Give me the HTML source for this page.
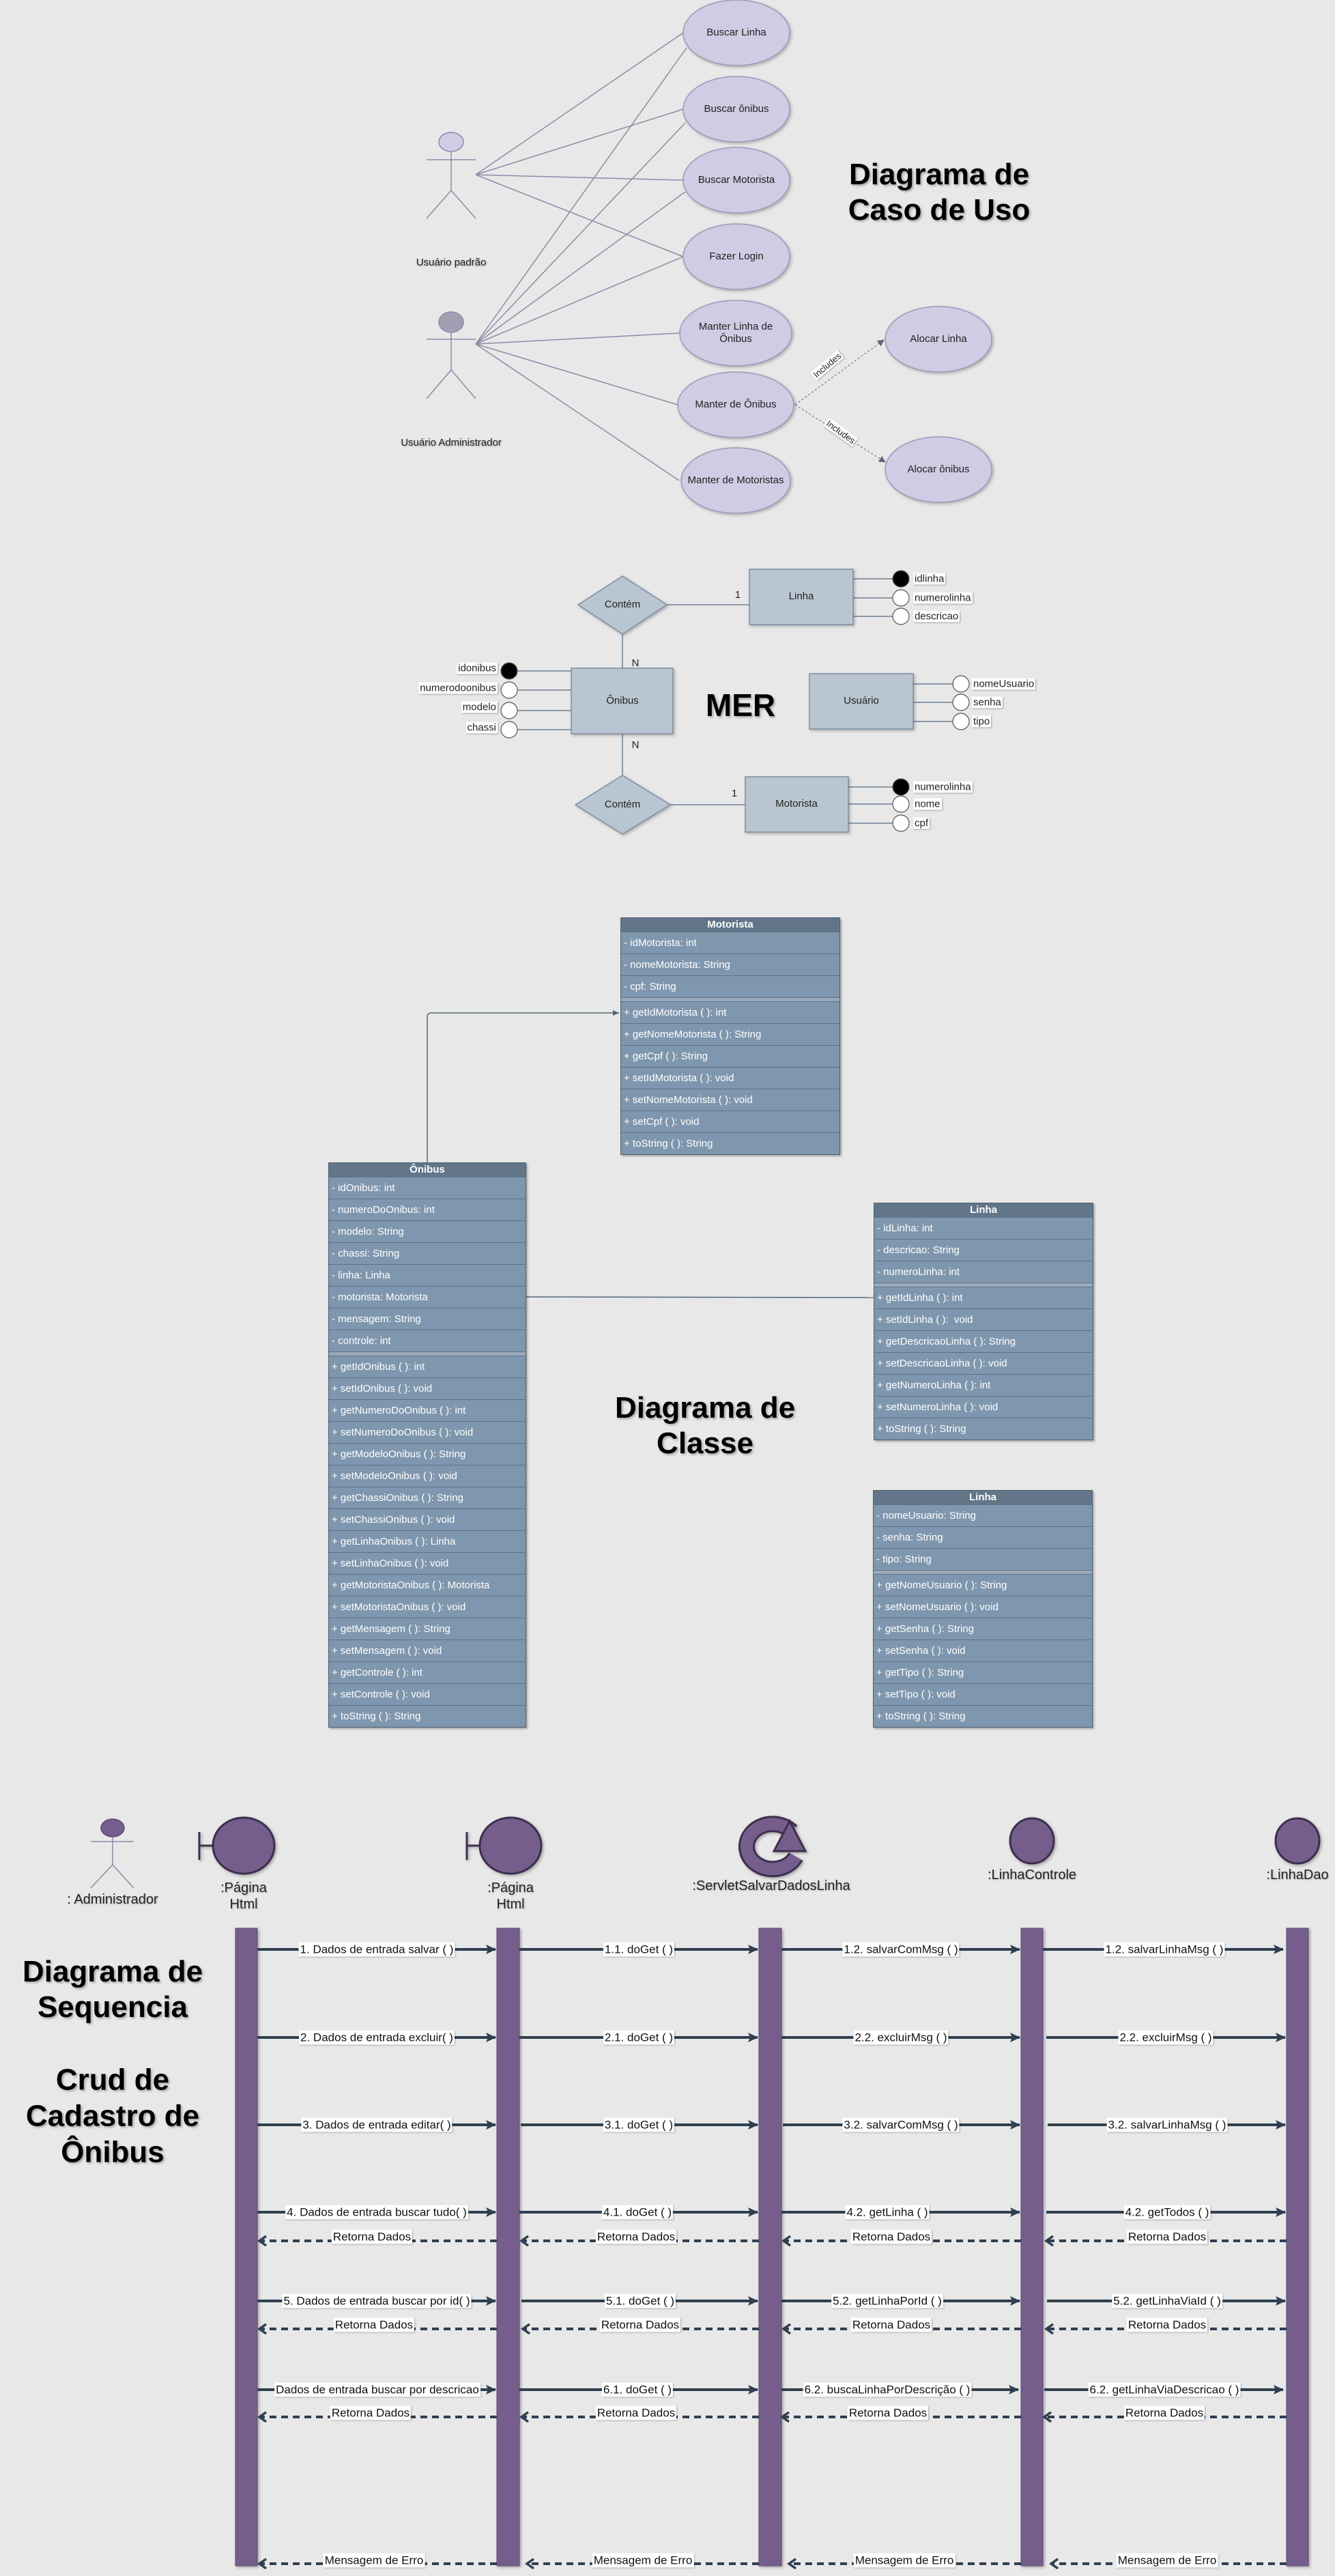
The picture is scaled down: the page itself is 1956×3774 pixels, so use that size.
<!DOCTYPE html>
<html><head><meta charset="utf-8">
<style>
html,body{margin:0;padding:0;}
body{width:1956px;height:3774px;background:#e8e8e8;position:relative;overflow:hidden;font-family:"Liberation Sans",sans-serif;}
svg{position:absolute;left:0;top:0;}
.t{position:absolute;white-space:nowrap;}
.c{transform:translate(-50%,-50%);}
.r{transform:translate(-100%,-50%);}
.l{transform:translate(0,-50%);}
.title{font-weight:bold;font-size:44px;color:#000;text-align:center;line-height:52px;text-shadow:2px 2px 3px rgba(0,0,0,.3);}
.uc{font-size:15px;color:#222;text-align:center;line-height:18px;}
.lab{font-size:15px;color:#222;background:#fff;padding:0 2px;box-shadow:1px 1px 2px rgba(0,0,0,.3);}
.msg{font-size:17px;color:#111;background:#fff;padding:0 2px;line-height:21px;box-shadow:1px 1px 2px rgba(0,0,0,.25);}
.hd{font-size:20px;color:#222;text-align:center;line-height:24px;text-shadow:1px 1px 2px rgba(0,0,0,.25);}
.cls{position:absolute;border:1px solid #4e5f70;background:#7f97ae;box-shadow:2px 2px 3px rgba(0,0,0,.3);}
.cls div{height:31px;border-bottom:1px solid #5c7084;color:#fff;font-size:15px;line-height:31px;padding-left:4px;white-space:nowrap;}
.cls .h{height:20px;line-height:20px;background:#627589;text-align:center;font-weight:bold;padding:0;}
.cls .s{height:5px;background:#9aaabb;border-bottom:1px solid #5c7084;padding:0;}
</style></head><body>
<svg width="1956" height="3774" viewBox="0 0 1956 3774">
<defs>
<marker id="ah" markerWidth="10" markerHeight="10" refX="9" refY="5" orient="auto" markerUnits="userSpaceOnUse"><path d="M0,0 L10,5 L0,10 z" fill="#66627f"/></marker>
<marker id="sa" markerWidth="16" markerHeight="16" refX="14" refY="8" orient="auto" markerUnits="userSpaceOnUse"><path d="M0,1 L15,8 L0,15 L3,8 z" fill="#2f3f50"/></marker>
<marker id="ra" markerWidth="16" markerHeight="16" refX="13" refY="8" orient="auto" markerUnits="userSpaceOnUse"><path d="M3,1 L13,8 L3,15" fill="none" stroke="#2f3f50" stroke-width="3.5"/></marker>
<marker id="ca" markerWidth="10" markerHeight="10" refX="9" refY="5" orient="auto" markerUnits="userSpaceOnUse"><path d="M0,1 L9,5 L0,9 z" fill="#556677"/></marker>
</defs>
<!-- USE CASE -->
<g stroke="#8e8aa8" stroke-width="1.5" fill="none">
<line x1="697" y1="256" x2="1001" y2="48"/><line x1="697" y1="256" x2="1001" y2="160"/><line x1="697" y1="256" x2="1001" y2="264"/><line x1="697" y1="256" x2="1001" y2="376"/>
<line x1="697" y1="504" x2="1006" y2="70"/><line x1="697" y1="504" x2="1004" y2="180"/><line x1="697" y1="504" x2="1004" y2="281"/><line x1="697" y1="504" x2="1001" y2="376"/>
<line x1="697" y1="504" x2="996" y2="488"/><line x1="697" y1="504" x2="993" y2="593"/><line x1="697" y1="504" x2="995" y2="704"/>
</g>
<g stroke="#8e8aa8" stroke-width="1.5" stroke-dasharray="3,3" fill="none">
<line x1="1165" y1="593" x2="1295" y2="498" marker-end="url(#ah)"/>
<line x1="1165" y1="593" x2="1297" y2="677" marker-end="url(#ah)"/>
</g>
<g fill="#cfcce3" stroke="#9d99bb" stroke-width="1.5" style="filter:drop-shadow(2px 2px 2px rgba(0,0,0,.25))">
<ellipse cx="1079" cy="48" rx="78" ry="48"/><ellipse cx="1079" cy="160" rx="78" ry="48"/><ellipse cx="1079" cy="264" rx="78" ry="48"/><ellipse cx="1079" cy="376" rx="78" ry="48"/>
<ellipse cx="1078" cy="488" rx="82" ry="48"/><ellipse cx="1078" cy="593" rx="85" ry="48"/><ellipse cx="1078" cy="704" rx="80" ry="48"/>
<ellipse cx="1375" cy="497" rx="78" ry="48"/><ellipse cx="1375" cy="688" rx="78" ry="48"/>
</g>
<g stroke="#8e8aa8" stroke-width="1.5" fill="none">
<ellipse cx="661" cy="208" rx="18" ry="14" fill="#cfcce3"/><line x1="625" y1="234" x2="697" y2="234"/><line x1="661" y1="222" x2="661" y2="279"/><line x1="661" y1="279" x2="625" y2="320"/><line x1="661" y1="279" x2="697" y2="320"/>
<ellipse cx="661" cy="472" rx="18" ry="15" fill="#a39fb3"/><line x1="625" y1="497" x2="697" y2="497"/><line x1="661" y1="487" x2="661" y2="542"/><line x1="661" y1="542" x2="625" y2="584"/><line x1="661" y1="542" x2="697" y2="584"/>
</g>
<!-- MER -->
<g stroke="#6d7f92" stroke-width="1.5">
<line x1="977" y1="886" x2="1098" y2="886"/><line x1="912" y1="929" x2="912" y2="979"/><line x1="912" y1="1075" x2="912" y2="1136"/><line x1="982" y1="1179" x2="1092" y2="1179"/>
<line x1="1250" y1="848" x2="1308" y2="848"/><line x1="1250" y1="876" x2="1308" y2="876"/><line x1="1250" y1="903" x2="1308" y2="903"/>
<line x1="1243" y1="1153" x2="1308" y2="1153"/><line x1="1243" y1="1178" x2="1308" y2="1178"/><line x1="1243" y1="1206" x2="1308" y2="1206"/>
<line x1="1338" y1="1002" x2="1396" y2="1002"/><line x1="1338" y1="1029" x2="1396" y2="1029"/><line x1="1338" y1="1057" x2="1396" y2="1057"/>
<line x1="758" y1="983" x2="837" y2="983"/><line x1="758" y1="1011" x2="837" y2="1011"/><line x1="758" y1="1041" x2="837" y2="1041"/><line x1="758" y1="1069" x2="837" y2="1069"/>
</g>
<g fill="#b9c6d2" stroke="#7d8ea0" stroke-width="1.5" style="filter:drop-shadow(2px 2px 2px rgba(0,0,0,.25))">
<polygon points="912,844 977,886 912,929 847,886"/><polygon points="912,1136 982,1179 912,1222 843,1179"/>
<rect x="1098" y="834" width="152" height="81"/><rect x="837" y="979" width="149" height="96"/><rect x="1092" y="1138" width="151" height="81"/><rect x="1186" y="987" width="152" height="81"/>
</g>
<g stroke="#555" stroke-width="1.2">
<circle cx="1320" cy="848" r="12" fill="#000"/><circle cx="1320" cy="876" r="12" fill="#fff"/><circle cx="1320" cy="903" r="12" fill="#fff"/>
<circle cx="1320" cy="1153" r="12" fill="#000"/><circle cx="1320" cy="1178" r="12" fill="#fff"/><circle cx="1320" cy="1206" r="12" fill="#fff"/>
<circle cx="1408" cy="1002" r="12" fill="#fff"/><circle cx="1408" cy="1029" r="12" fill="#fff"/><circle cx="1408" cy="1057" r="12" fill="#fff"/>
<circle cx="746" cy="983" r="12" fill="#000"/><circle cx="746" cy="1011" r="12" fill="#fff"/><circle cx="746" cy="1041" r="12" fill="#fff"/><circle cx="746" cy="1069" r="12" fill="#fff"/>
</g>
<!-- CLASS connectors -->
<g stroke="#556677" stroke-width="1.5" fill="none">
<path d="M626,1703 L626,1490 Q626,1484 632,1484 L907,1484" marker-end="url(#ca)"/>
<line x1="770" y1="1900" x2="1280" y2="1901"/>
</g>
<!-- SEQUENCE -->
<g stroke="#8e8aa8" stroke-width="1.5" fill="none">
<ellipse cx="165" cy="2678" rx="17" ry="13" fill="#765e8c" stroke="#5c4872"/>
<line x1="133" y1="2698" x2="196" y2="2698"/><line x1="165" y1="2691" x2="165" y2="2732"/><line x1="165" y1="2732" x2="133" y2="2766"/><line x1="165" y1="2732" x2="196" y2="2766"/>
</g>
<g fill="#765e8c" stroke="#3d2f4e" stroke-width="3" style="filter:drop-shadow(2px 2px 2px rgba(0,0,0,.3))">
<line x1="292" y1="2684" x2="292" y2="2725"/><line x1="292" y1="2704" x2="312" y2="2704"/><ellipse cx="357" cy="2704" rx="45" ry="41"/>
<line x1="684" y1="2684" x2="684" y2="2725"/><line x1="684" y1="2704" x2="704" y2="2704"/><ellipse cx="748" cy="2704" rx="45" ry="41"/>
<ellipse cx="1512" cy="2697" rx="32" ry="33"/><ellipse cx="1901" cy="2697" rx="32" ry="33"/>
</g>
<g style="filter:drop-shadow(2px 2px 2px rgba(0,0,0,.3))">
<path d="M1160,2683 A38,33 0 1 0 1166,2720" fill="none" stroke="#3d2f4e" stroke-width="24"/>
<path d="M1160,2683 A38,33 0 1 0 1166,2720" fill="none" stroke="#765e8c" stroke-width="18"/>
<polygon points="1157,2668 1180,2712 1134,2712" fill="#765e8c" stroke="#3d2f4e" stroke-width="3"/>
</g>
<g fill="#765e8c" stroke="#5c4872" stroke-width="1" style="filter:drop-shadow(2px 2px 2px rgba(0,0,0,.3))">
<rect x="345" y="2825" width="32" height="934"/><rect x="728" y="2825" width="33" height="934"/><rect x="1112" y="2825" width="33" height="934"/><rect x="1496" y="2825" width="32" height="934"/><rect x="1885" y="2825" width="32" height="934"/>
</g>
<g stroke="#2f3f50" stroke-width="4" fill="none">
<line x1="377" y1="2856" x2="726" y2="2856" marker-end="url(#sa)"/><line x1="761" y1="2856" x2="1110" y2="2856" marker-end="url(#sa)"/><line x1="1145" y1="2856" x2="1494" y2="2856" marker-end="url(#sa)"/><line x1="1528" y1="2856" x2="1880" y2="2856" marker-end="url(#sa)"/>
<line x1="377" y1="2985" x2="726" y2="2985" marker-end="url(#sa)"/><line x1="761" y1="2985" x2="1110" y2="2985" marker-end="url(#sa)"/><line x1="1145" y1="2985" x2="1494" y2="2985" marker-end="url(#sa)"/><line x1="1533" y1="2985" x2="1883" y2="2985" marker-end="url(#sa)"/>
<line x1="377" y1="3113" x2="726" y2="3113" marker-end="url(#sa)"/><line x1="763" y1="3113" x2="1110" y2="3113" marker-end="url(#sa)"/><line x1="1147" y1="3113" x2="1494" y2="3113" marker-end="url(#sa)"/><line x1="1535" y1="3113" x2="1883" y2="3113" marker-end="url(#sa)"/>
<line x1="377" y1="3241" x2="726" y2="3241" marker-end="url(#sa)"/><line x1="761" y1="3241" x2="1110" y2="3241" marker-end="url(#sa)"/><line x1="1145" y1="3241" x2="1494" y2="3241" marker-end="url(#sa)"/><line x1="1533" y1="3241" x2="1883" y2="3241" marker-end="url(#sa)"/>
<line x1="377" y1="3371" x2="726" y2="3371" marker-end="url(#sa)"/><line x1="764" y1="3371" x2="1110" y2="3371" marker-end="url(#sa)"/><line x1="1145" y1="3371" x2="1494" y2="3371" marker-end="url(#sa)"/><line x1="1534" y1="3371" x2="1883" y2="3371" marker-end="url(#sa)"/>
<line x1="377" y1="3501" x2="726" y2="3501" marker-end="url(#sa)"/><line x1="761" y1="3501" x2="1110" y2="3501" marker-end="url(#sa)"/><line x1="1145" y1="3501" x2="1492" y2="3501" marker-end="url(#sa)"/><line x1="1530" y1="3501" x2="1880" y2="3501" marker-end="url(#sa)"/>
</g>
<g stroke="#2f3f50" stroke-width="4" fill="none" stroke-dasharray="10,7">
<line x1="728" y1="3283" x2="380" y2="3283" marker-end="url(#ra)"/><line x1="1112" y1="3283" x2="764" y2="3283" marker-end="url(#ra)"/><line x1="1496" y1="3283" x2="1148" y2="3283" marker-end="url(#ra)"/><line x1="1885" y1="3283" x2="1533" y2="3283" marker-end="url(#ra)"/>
<line x1="728" y1="3412" x2="380" y2="3412" marker-end="url(#ra)"/><line x1="1112" y1="3412" x2="766" y2="3412" marker-end="url(#ra)"/><line x1="1496" y1="3412" x2="1148" y2="3412" marker-end="url(#ra)"/><line x1="1885" y1="3412" x2="1533" y2="3412" marker-end="url(#ra)"/>
<line x1="728" y1="3541" x2="380" y2="3541" marker-end="url(#ra)"/><line x1="1112" y1="3541" x2="764" y2="3541" marker-end="url(#ra)"/><line x1="1496" y1="3541" x2="1146" y2="3541" marker-end="url(#ra)"/><line x1="1885" y1="3541" x2="1530" y2="3541" marker-end="url(#ra)"/>
<line x1="728" y1="3756" x2="380" y2="3756" marker-end="url(#ra)"/><line x1="1112" y1="3756" x2="772" y2="3756" marker-end="url(#ra)"/><line x1="1496" y1="3756" x2="1156" y2="3756" marker-end="url(#ra)"/><line x1="1885" y1="3756" x2="1540" y2="3756" marker-end="url(#ra)"/>
</g>
</svg>

<!-- Use case text -->
<div class="t c uc" style="left:1079px;top:48px">Buscar Linha</div>
<div class="t c uc" style="left:1079px;top:160px">Buscar ônibus</div>
<div class="t c uc" style="left:1079px;top:264px">Buscar Motorista</div>
<div class="t c uc" style="left:1079px;top:376px">Fazer Login</div>
<div class="t c uc" style="left:1078px;top:488px">Manter Linha de<br>Ônibus</div>
<div class="t c uc" style="left:1078px;top:593px">Manter de Ônibus</div>
<div class="t c uc" style="left:1078px;top:704px">Manter de Motoristas</div>
<div class="t c uc" style="left:1375px;top:497px">Alocar Linha</div>
<div class="t c uc" style="left:1375px;top:688px">Alocar ônibus</div>
<div class="t c uc" style="left:661px;top:385px;text-shadow:1px 1px 2px rgba(0,0,0,.3)">Usuário padrão</div>
<div class="t c uc" style="left:661px;top:649px;text-shadow:1px 1px 2px rgba(0,0,0,.3)">Usuário Administrador</div>
<div class="t lab" style="left:1212px;top:535px;font-size:13px;transform:translate(-50%,-50%) rotate(-40deg)">Includes</div>
<div class="t lab" style="left:1232px;top:633px;font-size:13px;transform:translate(-50%,-50%) rotate(36deg)">Includes</div>
<div class="t c title" style="left:1376px;top:282px">Diagrama de<br>Caso de Uso</div>

<!-- MER text -->
<div class="t c uc" style="left:912px;top:886px">Contém</div>
<div class="t c uc" style="left:912px;top:1179px">Contém</div>
<div class="t c uc" style="left:1174px;top:874px">Linha</div>
<div class="t c uc" style="left:912px;top:1027px">Ônibus</div>
<div class="t c uc" style="left:1167px;top:1178px">Motorista</div>
<div class="t c uc" style="left:1262px;top:1027px">Usuário</div>
<div class="t c uc" style="left:1081px;top:872px">1</div>
<div class="t c uc" style="left:1076px;top:1163px">1</div>
<div class="t c uc" style="left:931px;top:972px">N</div>
<div class="t c uc" style="left:931px;top:1092px">N</div>
<div class="t c title" style="left:1085px;top:1033px;font-size:46px">MER</div>
<div class="t l lab" style="left:1338px;top:848px">idlinha</div>
<div class="t l lab" style="left:1338px;top:876px">numerolinha</div>
<div class="t l lab" style="left:1338px;top:903px">descricao</div>
<div class="t l lab" style="left:1338px;top:1153px">numerolinha</div>
<div class="t l lab" style="left:1338px;top:1178px">nome</div>
<div class="t l lab" style="left:1338px;top:1206px">cpf</div>
<div class="t l lab" style="left:1424px;top:1002px">nomeUsuario</div>
<div class="t l lab" style="left:1424px;top:1029px">senha</div>
<div class="t l lab" style="left:1424px;top:1057px">tipo</div>
<div class="t r lab" style="left:729px;top:979px">idonibus</div>
<div class="t r lab" style="left:729px;top:1008px">numerodoonibus</div>
<div class="t r lab" style="left:729px;top:1036px">modelo</div>
<div class="t r lab" style="left:729px;top:1066px">chassi</div>

<!-- Classes -->
<div class="cls" style="left:909px;top:1344px;width:320px">
<div class="h">Motorista</div>
<div>- idMotorista: int</div><div>- nomeMotorista: String</div><div>- cpf: String</div>
<div class="s"></div>
<div>+ getIdMotorista ( ): int</div><div>+ getNomeMotorista ( ): String</div><div>+ getCpf ( ): String</div><div>+ setIdMotorista ( ): void</div><div>+ setNomeMotorista ( ): void</div><div>+ setCpf ( ): void</div><div style="border:0">+ toString ( ): String</div>
</div>
<div class="cls" style="left:481px;top:1703px;width:288px">
<div class="h">Ônibus</div>
<div>- idOnibus: int</div><div>- numeroDoOnibus: int</div><div>- modelo: String</div><div>- chassi: String</div><div>- linha: Linha</div><div>- motorista: Motorista</div><div>- mensagem: String</div><div>- controle: int</div>
<div class="s"></div>
<div>+ getIdOnibus ( ): int</div><div>+ setIdOnibus ( ): void</div><div>+ getNumeroDoOnibus ( ): int</div><div>+ setNumeroDoOnibus ( ): void</div><div>+ getModeloOnibus ( ): String</div><div>+ setModeloOnibus ( ): void</div><div>+ getChassiOnibus ( ): String</div><div>+ setChassiOnibus ( ): void</div><div>+ getLinhaOnibus ( ): Linha</div><div>+ setLinhaOnibus ( ): void</div><div>+ getMotoristaOnibus ( ): Motorista</div><div>+ setMotoristaOnibus ( ): void</div><div>+ getMensagem ( ): String</div><div>+ setMensagem ( ): void</div><div>+ getControle ( ): int</div><div>+ setControle ( ): void</div><div style="border:0">+ toString ( ): String</div>
</div>
<div class="cls" style="left:1280px;top:1762px;width:320px">
<div class="h">Linha</div>
<div>- idLinha: int</div><div>- descricao: String</div><div>- numeroLinha: int</div>
<div class="s"></div>
<div>+ getIdLinha ( ): int</div><div>+ setIdLinha ( ):&nbsp; void</div><div>+ getDescricaoLinha ( ): String</div><div>+ setDescricaoLinha ( ): void</div><div>+ getNumeroLinha ( ): int</div><div>+ setNumeroLinha ( ): void</div><div style="border:0">+ toString ( ): String</div>
</div>
<div class="cls" style="left:1279px;top:2183px;width:320px">
<div class="h">Linha</div>
<div>- nomeUsuario: String</div><div>- senha: String</div><div>- tipo: String</div>
<div class="s"></div>
<div>+ getNomeUsuario ( ): String</div><div>+ setNomeUsuario ( ): void</div><div>+ getSenha ( ): String</div><div>+ setSenha ( ): void</div><div>+ getTipo ( ): String</div><div>+ setTipo ( ): void</div><div style="border:0">+ toString ( ): String</div>
</div>
<div class="t c title" style="left:1033px;top:2089px">Diagrama de<br>Classe</div>

<!-- Sequence text -->
<div class="t c hd" style="left:165px;top:2783px">: Administrador</div>
<div class="t c hd" style="left:357px;top:2778px">:Página<br>Html</div>
<div class="t c hd" style="left:748px;top:2778px">:Página<br>Html</div>
<div class="t c hd" style="left:1130px;top:2763px">:ServletSalvarDadosLinha</div>
<div class="t c hd" style="left:1512px;top:2747px">:LinhaControle</div>
<div class="t c hd" style="left:1901px;top:2747px">:LinhaDao</div>
<div class="t c title" style="left:165px;top:2915px">Diagrama de<br>Sequencia</div>
<div class="t c title" style="left:165px;top:3100px;line-height:53px">Crud de<br>Cadastro de<br>Ônibus</div>

<div class="t c msg" style="left:552px;top:2856px">1. Dados de entrada salvar ( )</div>
<div class="t c msg" style="left:936px;top:2856px">1.1. doGet ( )</div>
<div class="t c msg" style="left:1320px;top:2856px">1.2. salvarComMsg ( )</div>
<div class="t c msg" style="left:1706px;top:2856px">1.2. salvarLinhaMsg ( )</div>
<div class="t c msg" style="left:552px;top:2985px">2. Dados de entrada excluir( )</div>
<div class="t c msg" style="left:936px;top:2985px">2.1. doGet ( )</div>
<div class="t c msg" style="left:1320px;top:2985px">2.2. excluirMsg ( )</div>
<div class="t c msg" style="left:1708px;top:2985px">2.2. excluirMsg ( )</div>
<div class="t c msg" style="left:552px;top:3113px">3. Dados de entrada editar( )</div>
<div class="t c msg" style="left:936px;top:3113px">3.1. doGet ( )</div>
<div class="t c msg" style="left:1320px;top:3113px">3.2. salvarComMsg ( )</div>
<div class="t c msg" style="left:1710px;top:3113px">3.2. salvarLinhaMsg ( )</div>
<div class="t c msg" style="left:552px;top:3241px">4. Dados de entrada buscar tudo( )</div>
<div class="t c msg" style="left:934px;top:3241px">4.1. doGet ( )</div>
<div class="t c msg" style="left:1300px;top:3241px">4.2. getLinha ( )</div>
<div class="t c msg" style="left:1710px;top:3241px">4.2. getTodos ( )</div>
<div class="t c msg" style="left:552px;top:3371px">5. Dados de entrada buscar por id( )</div>
<div class="t c msg" style="left:938px;top:3371px">5.1. doGet ( )</div>
<div class="t c msg" style="left:1300px;top:3371px">5.2. getLinhaPorId ( )</div>
<div class="t c msg" style="left:1710px;top:3371px">5.2. getLinhaViaId ( )</div>
<div class="t c msg" style="left:553px;top:3501px">Dados de entrada buscar por descricao</div>
<div class="t c msg" style="left:934px;top:3501px">6.1. doGet ( )</div>
<div class="t c msg" style="left:1300px;top:3501px">6.2. buscaLinhaPorDescrição ( )</div>
<div class="t c msg" style="left:1706px;top:3501px">6.2. getLinhaViaDescricao ( )</div>

<div class="t c msg" style="left:545px;top:3277px">Retorna Dados</div>
<div class="t c msg" style="left:932px;top:3277px">Retorna Dados</div>
<div class="t c msg" style="left:1306px;top:3277px">Retorna Dados</div>
<div class="t c msg" style="left:1710px;top:3277px">Retorna Dados</div>
<div class="t c msg" style="left:548px;top:3406px">Retorna Dados</div>
<div class="t c msg" style="left:938px;top:3406px">Retorna Dados</div>
<div class="t c msg" style="left:1306px;top:3406px">Retorna Dados</div>
<div class="t c msg" style="left:1710px;top:3406px">Retorna Dados</div>
<div class="t c msg" style="left:543px;top:3535px">Retorna Dados</div>
<div class="t c msg" style="left:932px;top:3535px">Retorna Dados</div>
<div class="t c msg" style="left:1301px;top:3535px">Retorna Dados</div>
<div class="t c msg" style="left:1706px;top:3535px">Retorna Dados</div>
<div class="t c msg" style="left:548px;top:3751px">Mensagem de Erro</div>
<div class="t c msg" style="left:942px;top:3751px">Mensagem de Erro</div>
<div class="t c msg" style="left:1325px;top:3751px">Mensagem de Erro</div>
<div class="t c msg" style="left:1710px;top:3751px">Mensagem de Erro</div>
</body></html>
